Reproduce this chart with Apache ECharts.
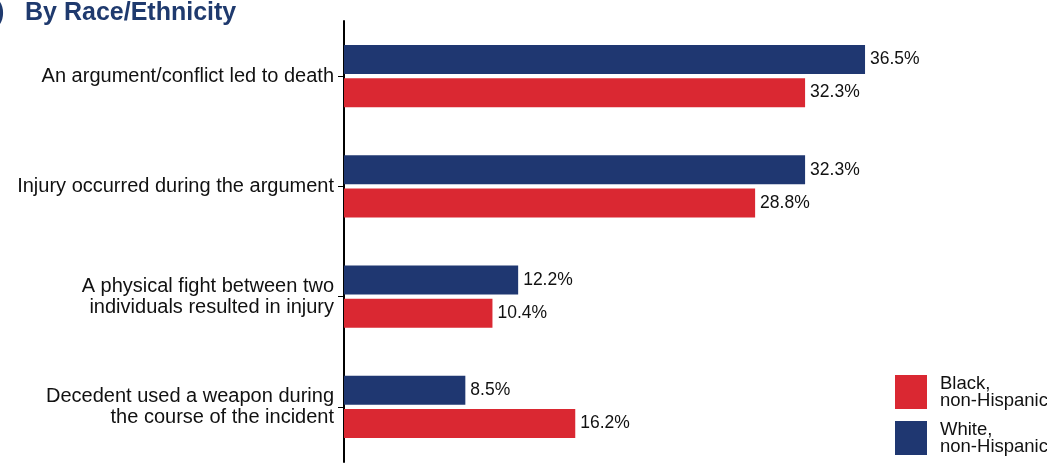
<!DOCTYPE html>
<html><head><meta charset="utf-8">
<script src="https://cdn.jsdelivr.net/npm/echarts@6/dist/echarts.min.js"></script>
<style>html,body{margin:0;padding:0;background:#fff;}#c{width:1047px;height:464px;}</style>
</head><body><div id="c"></div>
<script>
const categories = [
  'An argument/conflict led to death',
  'Injury occurred during the argument',
  'A physical fight between two\nindividuals resulted in injury',
  'Decedent used a weapon during\nthe course of the incident'
];
const whiteValues = [36.5, 32.3, 12.2, 8.5];
const blackValues = [32.3, 28.8, 10.4, 16.2];
const seriesNames = ['White,\nnon-Hispanic', 'Black,\nnon-Hispanic'];
const legendOrder = ['Black,\nnon-Hispanic', 'White,\nnon-Hispanic'];

const chart = echarts.init(document.getElementById('c'), null, {renderer: 'canvas'});
const FONT = 'Liberation Sans, Arial, sans-serif';
const labelStyle = {show: true, position: 'right', distance: 5, formatter: p => p.value.toFixed(1) + '%',
  fontFamily: FONT, fontSize: 17.5, color: '#111'};
chart.setOption({
  animation: false,
  graphic: [{type: 'text', x: -18, y: 1, style: {text: 'c)   By Race/Ethnicity', font: 'bold 25px "Liberation Sans", Arial, sans-serif', fill: '#1f3a6e', verticalAlign: 'top'}}],
  grid: {left: 344, top: 21, bottom: 2, right: 132},
  xAxis: {type: 'value', min: 0, max: 40, show: false},
  yAxis: {type: 'category', data: categories, inverse: true,
    axisLine: {lineStyle: {color: '#000', width: 2}},
    axisTick: {show: true, length: 6, alignWithLabel: true, lineStyle: {color: '#000', width: 1}},
    axisLabel: {fontFamily: FONT, fontSize: 20, color: '#111', margin: 10, align: 'right', lineHeight: 21}},
  legend: {orient: 'vertical', left: 895, top: 374, padding: 0, itemWidth: 32, itemHeight: 34, itemGap: 10,
    data: legendOrder, icon: 'rect',
    textStyle: {fontFamily: FONT, fontSize: 18.5, color: '#111', lineHeight: 17, padding: [0,0,0,8]}},
  series: [
    {name: seriesNames[0], type: 'bar', data: whiteValues, barWidth: 29, barGap: '14%', itemStyle: {color: '#1f3771'}, label: labelStyle},
    {name: seriesNames[1], type: 'bar', data: blackValues, barWidth: 29, itemStyle: {color: '#da2832'}, label: labelStyle}
  ]
});
</script></body></html>
